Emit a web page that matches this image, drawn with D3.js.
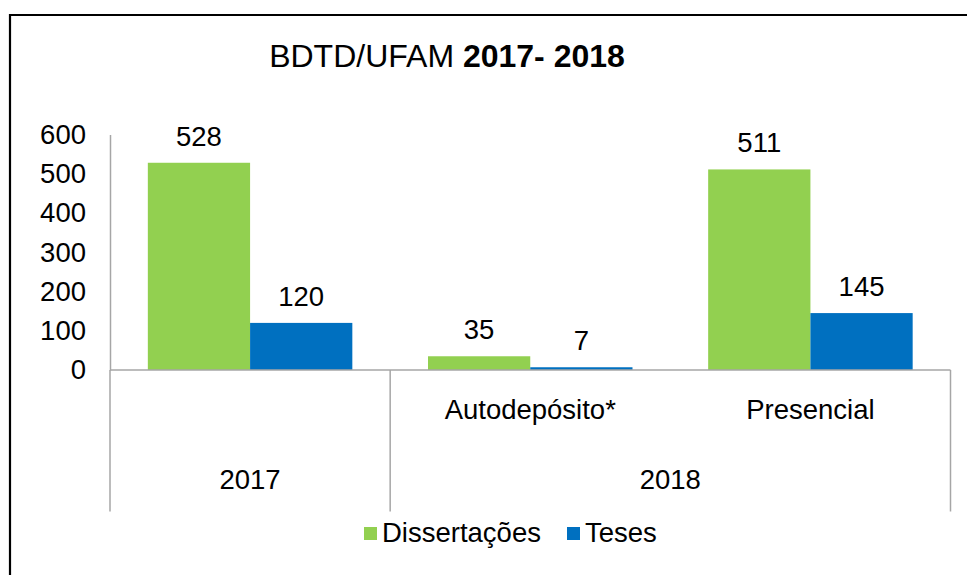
<!DOCTYPE html>
<html>
<head>
<meta charset="utf-8">
<script src="https://cdn.jsdelivr.net/npm/d3@7"></script>
<style>
  html, body { margin: 0; padding: 0; background: #fff; }
  svg { display: block; font-family: "Liberation Sans", Arial, sans-serif; }
</style>
</head>
<body>
<svg id="chart" width="967" height="575"></svg>
<script>
// ---- data ----
const categories = ["2017", "Autodepósito*", "Presencial"];
const subLabels = ["", "Autodepósito*", "Presencial"];
const yearLabels = ["2017", "2018"];
const yearSpans = [[0, 0], [1, 2]];
const seriesNames = ["Dissertações", "Teses"];
const dissertacoes = [528, 35, 511];
const teses = [120, 7, 145];
const yTicks = [0, 100, 200, 300, 400, 500, 600];
const seriesColors = ["#92D050", "#0070C0"];

const values = [dissertacoes, teses];
const FS = 27.5;

const svg = d3.select("#chart");

// frame
svg.append("path")
  .attr("d", "M10,580 L10,15 L975,15")
  .attr("fill", "none").attr("stroke", "#000").attr("stroke-width", 2.2);

// title
const title = svg.append("text").attr("x", 447).attr("y", 67)
  .attr("text-anchor", "middle").attr("font-size", 32).attr("fill", "#000");
title.append("tspan").text("BDTD/UFAM ");
title.append("tspan").attr("font-weight", "bold").text("2017- 2018");

const plotLeft = 110, plotRight = 950.5, plotBottom = 370, plotTop = 134.5;

const x0 = d3.scaleBand().domain(d3.range(categories.length)).range([plotLeft, plotRight]);
const x1 = d3.scaleBand().domain(seriesNames).range([0, x0.bandwidth()]).paddingOuter(0.37);
const y = d3.scaleLinear().domain([0, 600]).range([plotBottom, plotTop]);

const grey = "#a6a6a6";

// bars
seriesNames.forEach((s, si) => {
  const g = svg.append("g");
  g.selectAll("rect").data(values[si]).join("rect")
    .attr("x", (d, i) => x0(i) + x1(s))
    .attr("width", x1.bandwidth())
    .attr("y", d => y(d))
    .attr("height", d => y(0) - y(d))
    .attr("fill", seriesColors[si]);
  g.selectAll("text").data(values[si]).join("text")
    .attr("x", (d, i) => x0(i) + x1(s) + x1.bandwidth() / 2)
    .attr("y", d => y(d) - 17)
    .attr("text-anchor", "middle").attr("font-size", FS).attr("fill", "#000")
    .text(d => d);
});

// y axis
const yAxis = d3.axisLeft(y).tickValues(yTicks).tickSize(0).tickPadding(24);
const yg = svg.append("g").attr("transform", `translate(${plotLeft},0)`).call(yAxis);
yg.select(".domain").attr("stroke", grey).attr("stroke-width", 1.5);
yg.selectAll("text").attr("font-size", FS).attr("fill", "#000")
  .attr("font-family", "Liberation Sans, Arial, sans-serif");

// x axis baseline
svg.append("line").attr("x1", plotLeft).attr("x2", plotRight)
  .attr("y1", plotBottom).attr("y2", plotBottom)
  .attr("stroke", grey).attr("stroke-width", 1.5);

// group separators
const sepBottom = 511.5;
const sepXs = [x0(0), x0(1), x0(categories.length - 1) + x0.bandwidth()];
svg.selectAll("line.sep").data(sepXs).join("line").attr("class", "sep")
  .attr("x1", d => d).attr("x2", d => d)
  .attr("y1", plotBottom).attr("y2", sepBottom)
  .attr("stroke", grey).attr("stroke-width", 1.5);

// sub labels
svg.selectAll("text.sub").data(subLabels).join("text").attr("class", "sub")
  .attr("x", (d, i) => x0(i) + x0.bandwidth() / 2)
  .attr("y", 419)
  .attr("text-anchor", "middle").attr("font-size", FS).attr("fill", "#000")
  .text(d => d);

// year labels
svg.selectAll("text.year").data(yearLabels).join("text").attr("class", "year")
  .attr("x", (d, i) => (x0(yearSpans[i][0]) + x0(yearSpans[i][1]) + x0.bandwidth()) / 2)
  .attr("y", 489)
  .attr("text-anchor", "middle").attr("font-size", FS).attr("fill", "#000")
  .text(d => d);

// legend
const legendX = [364, 567];
const lg = svg.selectAll("g.leg").data(seriesNames).join("g").attr("class", "leg")
  .attr("transform", (d, i) => `translate(${legendX[i]},0)`);
lg.append("rect").attr("x", 0).attr("y", 527).attr("width", 13).attr("height", 13)
  .attr("fill", (d, i) => seriesColors[i]);
lg.append("text").attr("x", 18).attr("y", 542).attr("font-size", FS).attr("fill", "#000")
  .text(d => d);
</script>
</body>
</html>
